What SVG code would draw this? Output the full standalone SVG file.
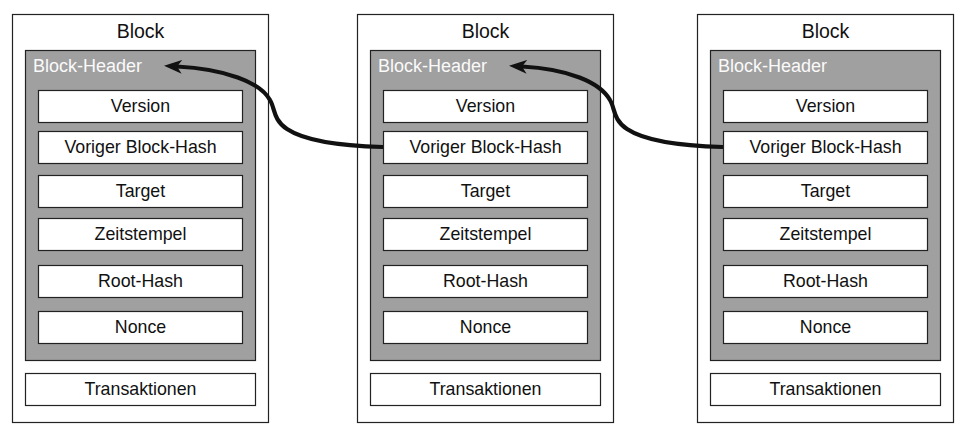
<svg xmlns="http://www.w3.org/2000/svg" width="960" height="425" viewBox="0 0 960 425">
<style>
  text { font-family: "Liberation Sans", Arial, sans-serif; fill: #111; }
  .block { fill: #fff; stroke: #222; stroke-width: 1.2; }
  .header { fill: #a0a0a0; stroke: #222; stroke-width: 1.2; }
  .field { fill: #fff; stroke: #222; stroke-width: 1.2; }
  .title { font-size: 19.5px; text-anchor: middle; }
  .htext { font-size: 18px; fill: #fafafa; }
  .ftext { font-size: 17.8px; text-anchor: middle; }
  .conn { fill: none; stroke: #111; stroke-width: 4.2; stroke-linecap: butt; }
</style>
<defs>
  <marker id="arrow" markerUnits="userSpaceOnUse" viewBox="0 0 18 14" markerWidth="18" markerHeight="14" refX="5" refY="7" orient="auto">
    <path d="M0,0 L18,7 L0,14 L5,7 z" fill="#111"/>
  </marker>
  <g id="blk">
    <rect class="block" x="0" y="0" width="256" height="408"/>
    <text class="title" x="128" y="23">Block</text>
    <rect class="header" x="13" y="36" width="230" height="310"/>
    <text class="htext" x="20.5" y="57.5">Block-Header</text>
    <rect class="field" x="26" y="76" width="204" height="32"/>
    <text class="ftext" x="128" y="97.5">Version</text>
    <rect class="field" x="26" y="117" width="204" height="32"/>
    <text class="ftext" x="128" y="138.5">Voriger Block-Hash</text>
    <rect class="field" x="26" y="161" width="204" height="32"/>
    <text class="ftext" x="128" y="182.5">Target</text>
    <rect class="field" x="26" y="204" width="204" height="32"/>
    <text class="ftext" x="128" y="225.5">Zeitstempel</text>
    <rect class="field" x="26" y="251" width="204" height="32"/>
    <text class="ftext" x="128" y="272.5">Root-Hash</text>
    <rect class="field" x="26" y="297" width="204" height="32"/>
    <text class="ftext" x="128" y="318.5">Nonce</text>
    <rect class="field" x="13" y="359" width="230" height="32"/>
    <text class="ftext" x="128" y="380.5">Transaktionen</text>
  </g>
</defs>
<g id="block1"><use href="#blk" x="12.5" y="14.5"/></g>
<g id="block2"><use href="#blk" x="357.5" y="14.5"/></g>
<g id="block3"><use href="#blk" x="697.5" y="14.5"/></g>
<g id="connectors">
  <path class="conn" marker-end="url(#arrow)" d="M383,147 C345,146 305,141 287,129 C273,120 275,108 270,100 C260,82 225,69 177,66.5"/>
  <path class="conn" marker-end="url(#arrow)" d="M723,147 C685,146 645,141 627,129 C613,120 615,108 610,100 C600,82 568,69 522,66.5"/>
</g>
</svg>
